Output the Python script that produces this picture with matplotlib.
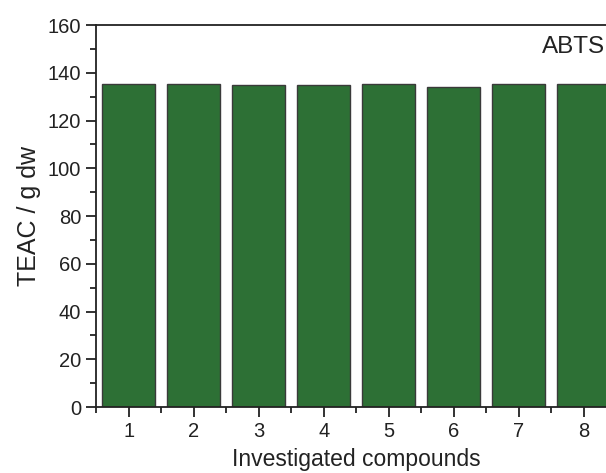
import matplotlib
matplotlib.use("Agg")
import matplotlib.pyplot as plt
from matplotlib.ticker import MultipleLocator

plt.rcParams['font.family'] = ['Liberation Sans', 'DejaVu Sans']

compounds = [1, 2, 3, 4, 5, 6, 7, 8]
teac = [135.5, 135.1, 134.7, 134.7, 135.4, 134.0, 135.2, 135.1]

fig = plt.figure(figsize=(6.06, 4.73), dpi=100)
ax = fig.add_axes([0.159, 0.1395, 0.858, 0.8076])

ax.bar(compounds, teac, width=0.82, color='#2d7035', edgecolor='#3a3a3a', linewidth=1.0)

ax.set_xlim(0.5, 8.5)
ax.set_ylim(0, 160)
ax.xaxis.set_major_locator(MultipleLocator(1))
ax.xaxis.set_minor_locator(MultipleLocator(0.5))
ax.yaxis.set_major_locator(MultipleLocator(20))
ax.yaxis.set_minor_locator(MultipleLocator(10))

for s in ax.spines.values():
    s.set_linewidth(1.3)
    s.set_color('#222222')

ax.tick_params(axis='both', which='major', direction='out', length=7, width=1.3,
               labelsize=14.5, pad=4, colors='#222222')
ax.tick_params(axis='both', which='minor', direction='out', length=4, width=1.3, colors='#222222')
ax.tick_params(top=False, right=False, which='both')

ax.set_xlabel('Investigated compounds', fontsize=16.5, color='#222222', labelpad=5)
ax.set_ylabel('TEAC / g dw', fontsize=18, color='#222222', labelpad=5)

ax.text(0.857, 0.942, 'ABTS', transform=ax.transAxes, fontsize=17.5, color='#222222',
        va='center', ha='left')

fig.savefig('out.png', dpi=100)
